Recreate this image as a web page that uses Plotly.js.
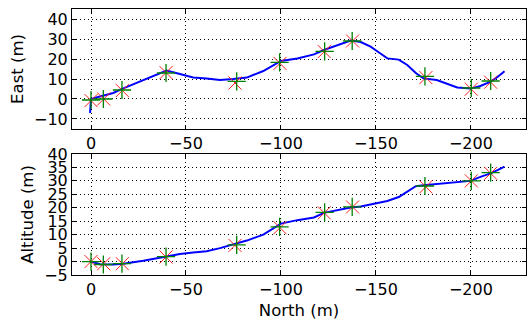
<!DOCTYPE html>
<html>
<head>
<meta charset="utf-8">
<script src="https://cdn.plot.ly/plotly-3.0.1.min.js"></script>
<style>html,body{margin:0;padding:0;background:#fff;}#chart{width:528px;height:322px;}</style>
</head>
<body>
<div id="chart"></div>
<script>
// Trajectory (blue line)
const pathNorth = [0.5, 0, -4.7, -11.7, -17, -27.5, -39.8, -46.8, -53.8, -60.9, -67.9, -74.9, -82, -90.7, -100, -108.6, -117.4, -122.6, -130, -136.7, -142, -147.2, -152, -156, -162, -166.5, -171, -175, -182, -187, -192.8, -199.8, -205, -210.4, -214, -217.7];
const pathEast  = [-7, 0, 1.2, 3, 5.3, 9.5, 14.2, 12.5, 10.8, 10.3, 9.5, 10, 10.7, 14, 19, 20.3, 22.3, 24.5, 27, 29.2, 28.5, 26.2, 23, 20.3, 19.7, 17, 13, 10.3, 9.5, 7.8, 5.8, 5.2, 6.5, 8.7, 11, 13.9];
const pathAlt   = [0, 0, -1, -1.1, -0.8, 0.3, 1.9, 2.8, 3.4, 3.8, 5, 6.4, 7.8, 10, 14.1, 15.4, 16.4, 18.1, 19.2, 20.1, 20.5, 21.2, 21.9, 22.5, 24, 26, 28, 28.4, 28.8, 29.2, 29.6, 30, 31.5, 32.8, 34, 35.3];

// Reference points (red x)
const refNorth = [0, -6.7, -16.5, -39.5, -75.8, -99.5, -122.8, -137.7, -176.3, -200.2, -210.4];
const refEast  = [-0.8, 0, 4.2, 13.2, 8.0, 17.8, 23.7, 29, 10.7, 4.9, 8.4];
const refAlt   = [0, -0.8, -0.8, 1.7, 6.0, 12.6, 18.1, 20.3, 27.8, 30.0, 32.8];

// Estimated points (green +)
const estNorth = [0, -6.5, -16.3, -39.5, -76.7, -99.3, -123, -137.5, -175.8, -200.2, -210.4];
const estEast  = [-0.5, 0, 4.5, 13.0, 8.8, 18.3, 23.8, 29, 11.3, 5.5, 9.0];
const estAlt   = [0, -1.1, -0.8, 1.8, 6.2, 12.9, 18.3, 20.3, 28.1, 30.0, 33.1];

const northTicks = [0, -50, -100, -150, -200];

const tickFont = {family: 'DejaVu Sans', size: 16, color: '#000'};
const titleFont = {family: 'DejaVu Sans', size: 16.5, color: '#000'};

function xAxis(anchor) {
  return {
    range: [10, -229], tickvals: northTicks, ticktext: northTicks.map(v => v < 0 ? '\u2212' + (-v) : String(v)),
    showgrid: true, gridcolor: '#000', griddash: '1px,3px', gridwidth: 1,
    zeroline: false, showline: true, linecolor: '#000', linewidth: 1, mirror: 'allticks',
    ticks: 'inside', ticklen: 4, tickcolor: '#000', tickfont: tickFont, anchor: anchor
  };
}
function yAxis(range, dtick, title, domain, anchor) {
  return {
    range: range, dtick: dtick, tick0: 0, domain: domain, anchor: anchor,
    showgrid: true, gridcolor: '#000', griddash: '1px,3px', gridwidth: 1,
    zeroline: false, showline: true, linecolor: '#000', linewidth: 1, mirror: 'allticks',
    ticks: 'inside', ticklen: 4, tickcolor: '#000', tickfont: tickFont,
    title: {text: title, font: titleFont, standoff: 6}
  };
}

const traces = [
  {x: pathNorth, y: pathEast, xaxis: 'x', yaxis: 'y', mode: 'lines', line: {color: '#0000ff', width: 2}},
  {x: refNorth, y: refEast, xaxis: 'x', yaxis: 'y', mode: 'markers', marker: {symbol: 'x-thin', size: 13, line: {color: '#ff2020', width: 1}}},
  {x: estNorth, y: estEast, xaxis: 'x', yaxis: 'y', mode: 'markers', marker: {symbol: 'cross-thin', size: 13, line: {color: '#008000', width: 1.3}}},
  {x: pathNorth, y: pathAlt, xaxis: 'x2', yaxis: 'y2', mode: 'lines', line: {color: '#0000ff', width: 2}},
  {x: refNorth, y: refAlt, xaxis: 'x2', yaxis: 'y2', mode: 'markers', marker: {symbol: 'x-thin', size: 13, line: {color: '#ff2020', width: 1}}},
  {x: estNorth, y: estAlt, xaxis: 'x2', yaxis: 'y2', mode: 'markers', marker: {symbol: 'cross-thin', size: 13, line: {color: '#008000', width: 1.3}}}
];

const x2 = xAxis('y2');
x2.title = {text: 'North (m)', font: titleFont, standoff: 6};

const layout = {
  width: 528, height: 322, showlegend: false,
  paper_bgcolor: '#fff', plot_bgcolor: '#fff',
  margin: {l: 72, r: 2, t: 9, b: 47},
  font: tickFont,
  xaxis: xAxis('y'),
  yaxis: yAxis([-15, 45], 10, 'East (m)', [0.5489, 1], 'x'),
  xaxis2: x2,
  yaxis2: yAxis([-5, 40], 5, 'Altitude (m)', [0, 0.4549], 'x2')
};

Plotly.newPlot('chart', traces, layout, {staticPlot: true, displayModeBar: false});
</script>
</body>
</html>
